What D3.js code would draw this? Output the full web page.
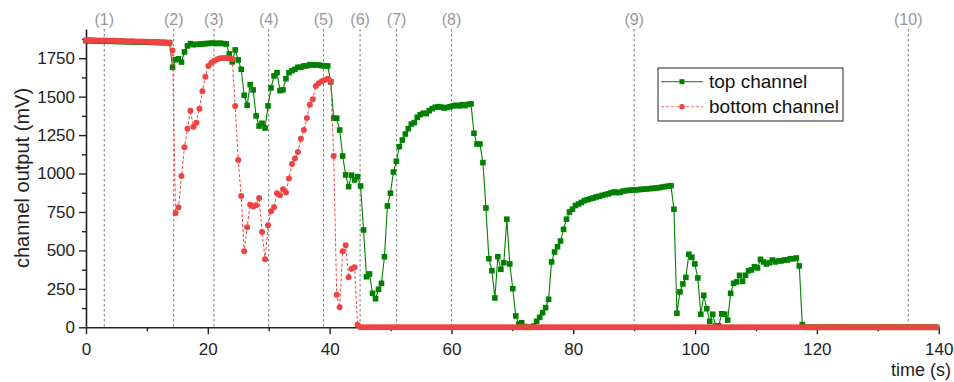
<!DOCTYPE html>
<html>
<head>
<meta charset="utf-8">
<script src="https://cdn.jsdelivr.net/npm/d3@7"></script>
<style>
body { margin: 0; background: #fff; }
svg { display: block; font-family: "Liberation Sans", Arial, sans-serif; }
</style>
</head>
<body>
<div id="root"></div>
<script>
// sampling interval of the recording (s)
const sampleStep = 0.49;

// top channel output (mV), one value per sample
const topChannel = [
    1864,1864,1863,1863,1862,1862,1861,1861,1860,1860,
    1859,1859,1858,1858,1857,1857,1856,1856,1855,1855,
    1854,1854,1853,1853,1852,1852,1851,1851,1850,
    1691,1740,1746,1725,1791,1830,1845,1838,
    1840,1842,1843,1845,1846,1848,1847,1846,1848,1845,1843,
    1778,1726,1804,1739,1678,1509,1444,1578,1544,1375,
    1309,1327,1296,1440,1557,1635,1656,1539,1544,1617,
    1656,1669,
    1678,1691,1691,1700,1700,1708,1706,1706,1706,1702,1700,1700,
    1596,1360,1360,1283,1114,991,915,989,958,980,
    919,633,329,347,221,186,247,286,459,789,
    872,1010,1080,1175,1218,1257,1292,1322,1331,1366,
    1383,1392,
    1390,1409,1422,1431,1435,1432,1426,1430,1435,1440,1444,1440,1448,1442,1450,1453,
    1262,1192,1192,1071,776,446,368,191,459,377,
    420,703,412,251,74,21,30,5,0,0,
    8,39,65,95,128,182,425,490,524,561,
    637,703,750,768,792,802,
    812,824,830,836,841,848,852,858,863,868,
    875,880,876,878,886,889,891,893,893,895,
    897,898,900,902,904,906,908,912,915,918,
    921,768,91,230,282,325,475,455,412,321,
    85,208,121,39,85,8,10,88,85,47,
    221,286,295,338,299,338,368,373,394,386,
    442,425,412,420,438,425,432,432,438,438,
    446,446,451,399,17,
    0,0,0,0,0,0,0,0,0,0,0,0,0,0,0,0,0,0,0,0,
    0,0,0,0,0,0,0,0,0,0,0,0,0,0,0,0,0,0,0,0,
    0,0,0,0,0
];

// bottom channel output (mV), one value per sample
const bottomChannel = [
    1868,1868,1867,1867,1866,1866,1865,1865,1864,1863,
    1863,1862,1862,1861,1861,1860,1860,1859,1858,1858,
    1857,1857,1856,1855,1855,1854,1854,1853,1852,
    1800,742,780,984,1171,1292,1409,1305,1331,1422,
    1535,1630,1700,1720,1734,1743,1750,1752,1752,1750,
    1745,
    1440,1088,854,494,650,797,785,794,841,620,
    442,663,755,780,872,859,898,876,967,1062,
    1097,1140,1227,1283,1361,1448,1483,1570,1587,1600,
    1609,1617,1600,1114,212,130,494,533,325,381,
    390,17,
    0,0,0,0,0,0,0,0,0,0,0,0,0,0,0,0,0,0,0,0,
    0,0,0,0,0,0,0,0,0,0,0,0,0,0,0,0,0,0,0,0,
    0,0,0,0,0,0,0,0,0,0,0,0,0,0,0,0,0,0,0,0,
    0,0,0,0,0,0,0,0,0,0,0,0,0,0,0,0,0,0,0,0,
    0,0,0,0,0,0,0,0,0,0,0,0,0,0,0,0,0,0,0,0,
    0,0,0,0,0,0,0,0,0,0,0,0,0,0,0,0,0,0,0,0,
    0,0,0,0,0,0,0,0,0,0,0,0,0,0,0,0,0,0,0,0,
    0,0,0,0,0,0,0,0,0,0,0,0,0,0,0,0,0,0,0,0,
    0,0,0,0,0,0,0,0,0,0,0,0,0,0,0,0,0,0,0,0,
    0,0,0,0,0,0,0,0,0,0,0,0,0,0
];

// marked events
const eventTimes = [3, 14.4, 21, 30, 39, 45, 51, 60, 90, 135];
const eventLabels = ["(1)", "(2)", "(3)", "(4)", "(5)", "(6)", "(7)", "(8)", "(9)", "(10)"];

// ticks
const xTicks = [0, 20, 40, 60, 80, 100, 120, 140];
const xMinorTicks = [10, 30, 50, 70, 90, 110, 130];
const yTicks = [0, 250, 500, 750, 1000, 1250, 1500, 1750];
const yMinorTicks = [125, 375, 625, 875, 1125, 1375, 1625, 1875];

const w = 954;
const h = 382;
const plotLeft = 86;
const plotRight = 938.7;
const plotTop = 29;
const plotBottom = 327.3;

const green = "#008000";
const red = "#ef4242";

const toPoints = arr => arr.map((v, i) => [i * sampleStep, v]);
const topData = toPoints(topChannel);
const bottomData = toPoints(bottomChannel);

const xScale = d3.scaleLinear()
    .domain([0, 140])
    .range([plotLeft, plotRight]);

const yScale = d3.scaleLinear()
    .domain([0, 1940])
    .range([plotBottom, plotTop]);

const svg = d3.select("#root")
    .append("svg")
    .attr("width", w)
    .attr("height", h);

// event lines + labels
svg.selectAll(".event")
    .data(eventTimes)
    .enter()
    .append("line")
    .attr("x1", d => xScale(d))
    .attr("x2", d => xScale(d))
    .attr("y1", plotTop)
    .attr("y2", plotBottom)
    .attr("stroke", "#777")
    .attr("stroke-width", 1)
    .attr("stroke-dasharray", "2.5,2.5");

svg.selectAll(".eventLabel")
    .data(eventTimes)
    .enter()
    .append("text")
    .attr("x", d => xScale(d))
    .attr("y", 25)
    .attr("text-anchor", "middle")
    .style("font-size", "16px")
    .attr("fill", "#999")
    .text((d, i) => eventLabels[i]);

// x-axis
svg.append("g")
    .attr("transform", "translate(0, " + plotBottom + ")")
    .call(d3.axisBottom(xScale).tickValues(xTicks).tickSize(7).tickPadding(9).tickSizeOuter(0).tickFormat(d3.format("d")))
    .attr("font-size", 17)
    .attr("font-family", null);
svg.append("g")
    .attr("transform", "translate(0, " + plotBottom + ")")
    .call(d3.axisBottom(xScale).tickValues(xMinorTicks).tickSize(4).tickFormat(""))
    .call(g => g.select(".domain").remove());

// y-axis
svg.append("g")
    .attr("transform", "translate(" + plotLeft + ", 0)")
    .call(d3.axisLeft(yScale).tickValues(yTicks).tickSize(7).tickPadding(4).tickSizeOuter(0).tickFormat(d3.format("d")))
    .attr("font-size", 17)
    .attr("font-family", null);
svg.append("g")
    .attr("transform", "translate(" + plotLeft + ", 0)")
    .call(d3.axisLeft(yScale).tickValues(yMinorTicks).tickSize(4).tickFormat(""))
    .call(g => g.select(".domain").remove());

svg.selectAll(".domain").attr("stroke", "#222").attr("stroke-width", 1.6);
svg.selectAll(".tick line").attr("stroke", "#222").attr("stroke-width", 1.4);
svg.selectAll(".tick text").attr("fill", "#222");

// axis labels
svg.append("text")
    .attr("x", 951)
    .attr("y", 376)
    .attr("text-anchor", "end")
    .style("font-size", "18px")
    .attr("fill", "#222")
    .text("time (s)");

svg.append("text")
    .attr("transform", "translate(29, 178) rotate(-90)")
    .attr("text-anchor", "middle")
    .style("font-size", "20px")
    .attr("fill", "#222")
    .text("channel output (mV)");

const line = d3.line()
    .x(d => xScale(d[0]))
    .y(d => yScale(d[1]));

// top channel
svg.append("path")
    .datum(topData)
    .attr("d", line)
    .attr("fill", "none")
    .attr("stroke", green)
    .attr("stroke-width", 1.1);

svg.selectAll(".topMark")
    .data(topData)
    .enter()
    .append("rect")
    .attr("x", d => xScale(d[0]) - 2.8)
    .attr("y", d => yScale(d[1]) - 2.8)
    .attr("width", 5.6)
    .attr("height", 5.6)
    .attr("fill", green);

// bottom channel
svg.append("path")
    .datum(bottomData)
    .attr("d", line)
    .attr("fill", "none")
    .attr("stroke", red)
    .attr("stroke-width", 1)
    .attr("stroke-dasharray", "3,2");

svg.selectAll(".bottomMark")
    .data(bottomData)
    .enter()
    .append("circle")
    .attr("cx", d => xScale(d[0]))
    .attr("cy", d => yScale(d[1]))
    .attr("r", 3)
    .attr("fill", red);

// legend
const legend = svg.append("g");
legend.append("rect")
    .attr("x", 658)
    .attr("y", 68)
    .attr("width", 185)
    .attr("height", 53)
    .attr("fill", "#fff")
    .attr("stroke", "#222")
    .attr("stroke-width", 1);

legend.append("line")
    .attr("x1", 661).attr("x2", 703)
    .attr("y1", 81.7).attr("y2", 81.7)
    .attr("stroke", green);
legend.append("rect")
    .attr("x", 679.5).attr("y", 79.2)
    .attr("width", 5).attr("height", 5)
    .attr("fill", green);
legend.append("text")
    .attr("x", 709).attr("y", 81.7)
    .attr("dy", "0.35em")
    .style("font-size", "19px")
    .attr("fill", "#111")
    .text("top channel");

legend.append("line")
    .attr("x1", 661).attr("x2", 703)
    .attr("y1", 106.7).attr("y2", 106.7)
    .attr("stroke", "#f47a7a")
    .attr("stroke-dasharray", "3,2");
legend.append("circle")
    .attr("cx", 682).attr("cy", 106.7)
    .attr("r", 2.8)
    .attr("fill", red);
legend.append("text")
    .attr("x", 709).attr("y", 106.7)
    .attr("dy", "0.35em")
    .style("font-size", "19px")
    .attr("fill", "#111")
    .text("bottom channel");
</script>
</body>
</html>
